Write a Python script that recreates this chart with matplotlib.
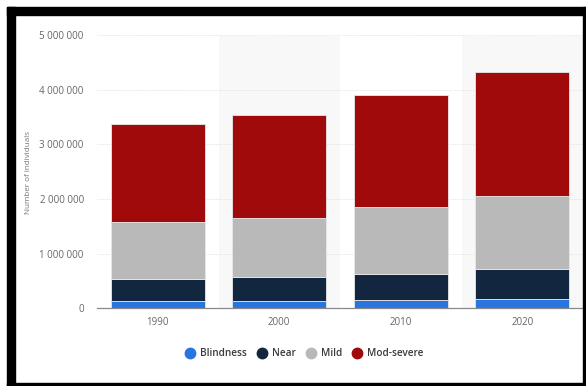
import matplotlib
matplotlib.use("Agg")
import matplotlib.pyplot as plt
from matplotlib.patches import Rectangle
from matplotlib.lines import Line2D
from matplotlib.ticker import FuncFormatter, MultipleLocator

years = ["1990", "2000", "2010", "2020"]
blindness = [134000, 134000, 146000, 170000]
near = [397000, 439000, 487000, 554000]
mild = [1042000, 1085000, 1215000, 1330000]
mod_severe = [1793000, 1873000, 2049000, 2275000]

series = [("Blindness", blindness, "#2876dd"),
          ("Near", near, "#12263f"),
          ("Mild", mild, "#b9b9b9"),
          ("Mod-severe", mod_severe, "#a10a0a")]

plt.rcParams['font.family'] = ['Open Sans', 'DejaVu Sans']

fig = plt.figure(figsize=(5.86, 3.86), dpi=100)
W, H = 586, 386
ax = fig.add_axes([97 / W, 1 - 308.3 / H, (583 - 97) / W, (308.3 - 35) / H])

x = list(range(len(years)))
# alternating band shading
for i in x:
    if i % 2 == 1:
        ax.axvspan(i - 0.5, i + 0.5, ymin=0, ymax=0.997, color="#f8f8f8", zorder=0, lw=0)

bottom = [0] * len(years)
for name, vals, col in series:
    ax.bar(x, vals, width=0.77, bottom=bottom, color=col, edgecolor="#e8e8e8",
           linewidth=0.6, zorder=3, label=name)
    bottom = [b + v for b, v in zip(bottom, vals)]

ax.set_xlim(-0.5, 3.5)
ax.set_ylim(0, 5000000)
ax.yaxis.set_major_locator(MultipleLocator(1000000))
ax.yaxis.set_major_formatter(FuncFormatter(lambda v, p: f"{int(v):,}".replace(",", " ")))
ax.set_xticks(x)
ax.set_xticklabels(years)
ax.grid(axis="y", color="#e4e4e4", linewidth=0.7, linestyle=(0, (1, 1)), zorder=1)
for s in ["top", "right", "left"]:
    ax.spines[s].set_visible(False)
ax.spines["bottom"].set_color("#888888")
ax.spines["bottom"].set_linewidth(0.9)
ax.spines["bottom"].set_zorder(4)
ax.tick_params(axis="y", length=0, pad=9.5, labelsize=7, labelcolor="#666666")
ax.tick_params(axis="x", length=0, pad=6, labelsize=7, labelcolor="#666666")
fig.text(28 / W, 1 - 172 / H, "Number of individuals", rotation=90, fontsize=5.8,
         color="#777777", ha="center", va="center")

handles = [Line2D([0], [0], marker="o", color="none", markerfacecolor=c, markeredgecolor=c,
                  markersize=7.5, label=n) for n, _, c in series]
leg = fig.legend(handles=handles, loc="center", bbox_to_anchor=(304 / W, 1 - 354 / H),
                 ncol=4, frameon=False, fontsize=7.2, handletextpad=0.4, columnspacing=0.9,
                 handlelength=1.2)
for t in leg.get_texts():
    t.set_color("#3a3a3a")
    t.set_fontweight("semibold")

# black frame around the screenshot
frame = [(7, 7, 8, 379), (7, 7, 579, 8), (583, 7, 3, 379), (7, 383, 579, 3)]
for (fx, fy, fw, fh) in frame:
    fig.patches.append(Rectangle((fx / W, 1 - (fy + fh) / H), fw / W, fh / H,
                                 transform=fig.transFigure, color="black", zorder=10))

fig.savefig("out.png", dpi=100)
